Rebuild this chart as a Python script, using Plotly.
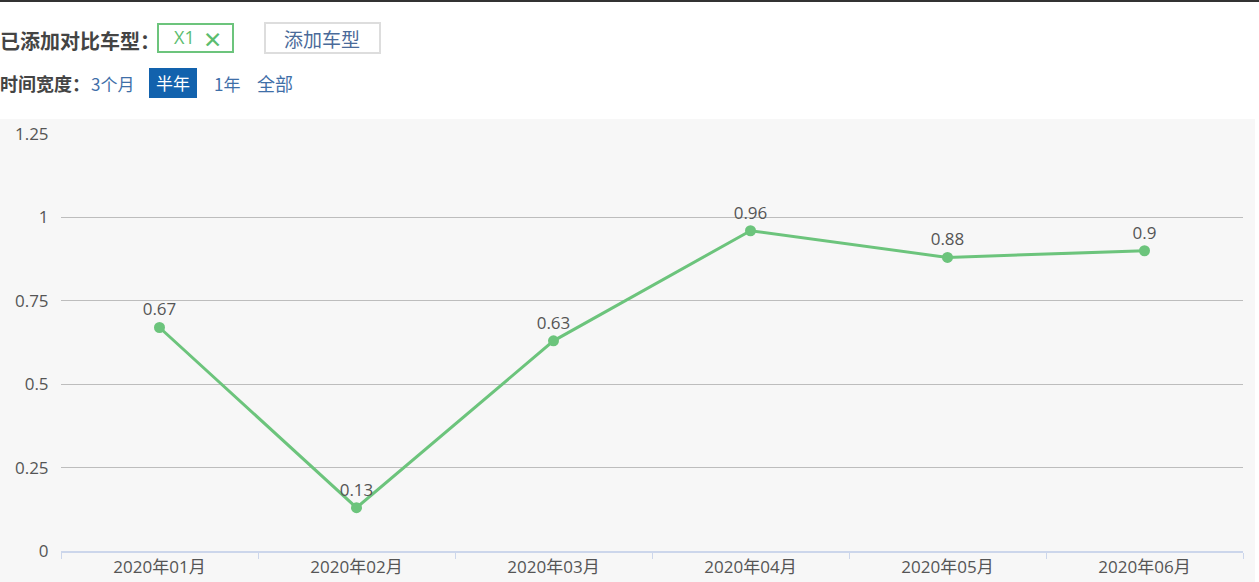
import plotly.graph_objects as go

categories = ["2020年01月", "2020年02月", "2020年03月", "2020年04月", "2020年05月", "2020年06月"]
values = [0.67, 0.13, 0.63, 0.96, 0.88, 0.9]
value_labels = ["0.67", "0.13", "0.63", "0.96", "0.88", "0.9"]
y_ticks = [0, 0.25, 0.5, 0.75, 1, 1.25]
y_tick_labels = ["0", "0.25", "0.5", "0.75", "1", "1.25"]

W, H = 1259, 582
L, R, T, B = 61, 16, 134, 31
PW = W - L - R
PH = H - T - B

def px(x):
    return (x - L) / PW

def py(y):
    return (H - B - y) / PH

FONT = "Open Sans, Noto Sans CJK SC, sans-serif"
CJK = "Noto Sans CJK SC, sans-serif"
GREEN = "#6cc47c"

fig = go.Figure()
fig.add_trace(go.Scatter(
    x=categories, y=values, mode="lines+markers+text",
    text=value_labels, textposition="top center",
    textfont=dict(size=17, color="#555555", family=FONT),
    line=dict(color=GREEN, width=3),
    marker=dict(color=GREEN, size=11),
    cliponaxis=False, hoverinfo="x+y", showlegend=False,
))

shapes = [
    dict(type="rect", xref="paper", yref="paper", x0=px(0), x1=px(W), y0=py(2), y1=py(0),
         fillcolor="#333333", line=dict(width=0), layer="below"),
    dict(type="rect", xref="paper", yref="paper", x0=px(0), x1=px(1255), y0=py(582), y1=py(119),
         fillcolor="#f7f7f7", line=dict(width=0), layer="below"),
    dict(type="rect", xref="paper", yref="paper", x0=px(158), x1=px(233), y0=py(52), y1=py(24),
         fillcolor="white", line=dict(color="#6cc47c", width=2), layer="below"),
    dict(type="rect", xref="paper", yref="paper", x0=px(265), x1=px(380), y0=py(53), y1=py(23),
         fillcolor="white", line=dict(color="#dddddd", width=2), layer="below"),
    dict(type="rect", xref="paper", yref="paper", x0=px(149), x1=px(197), y0=py(98), y1=py(68),
         fillcolor="#1262ad", line=dict(width=0), layer="below"),
]

def ann(text, x, y, color, size=16, anchor="left", family=CJK):
    return dict(text=text, xref="paper", yref="paper", x=px(x), y=py(y), xanchor=anchor,
                yanchor="middle", showarrow=False, font=dict(size=size, color=color, family=family))

annotations = [
    ann("<b>已添加对比车型：</b>", -2, 40, "#444444", 20),
    ann("X1", 172, 37, "#5bbd6f", 18, family=FONT),
    ann("<b>✕</b>", 213, 40, "#5bbd6f", 23, "center", family="DejaVu Sans"),
    ann("添加车型", 322, 38, "#4a6a99", 19, "center"),
    ann("<b>时间宽度：</b>", -2, 83, "#444444", 18),
    ann("3个月", 89, 83, "#3f6fa8", 17),
    ann("半年", 173, 82, "#ffffff", 17, "center"),
    ann("1年", 212, 83, "#3f6fa8", 17),
    ann("全部", 255, 83, "#3f6fa8", 18),
]

fig.update_layout(
    width=W, height=H,
    margin=dict(l=L, r=R, t=T, b=B, pad=0),
    paper_bgcolor="white", plot_bgcolor="rgba(0,0,0,0)",
    shapes=shapes, annotations=annotations,
    font=dict(family=FONT),
    xaxis=dict(
        type="category", range=[-0.5, 5.5], showgrid=False, zeroline=False,
        showline=True, linecolor="#ccd6eb", linewidth=2, automargin=False,
        ticks="outside", tickson="boundaries", ticklen=6, tickcolor="#ccd6eb", tickwidth=1,
        tickfont=dict(size=17, color="#555555", family=FONT),
    ),
    yaxis=dict(
        range=[0, 1.25], tickvals=y_ticks, ticktext=y_tick_labels, automargin=False,
        showgrid=True, gridcolor="#bdbdbd", gridwidth=1, zeroline=False,
        showline=False, ticks="outside", ticklen=8, tickcolor="rgba(0,0,0,0)",
        tickfont=dict(size=17, color="#555555", family=FONT),
    ),
)

fig.write_html("out.html", config={"displayModeBar": False},
               post_script="document.body.style.margin='0';")
